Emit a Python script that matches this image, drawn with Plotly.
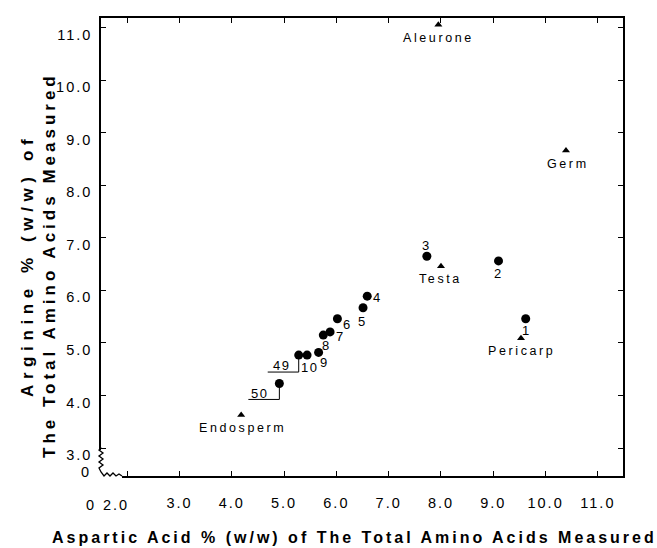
import plotly.graph_objects as go

# Numbered samples (filled circles): aspartic acid vs arginine, % (w/w) of total amino acids
sample_ids = ["1", "2", "3", "4", "5", "6", "7", "8", "9", "10", "49", "50"]
sample_asp = [9.62, 9.10, 7.73, 6.59, 6.51, 6.02, 5.88, 5.75, 5.66, 5.44, 5.28, 4.91]
sample_arg = [5.46, 6.56, 6.65, 5.89, 5.67, 5.46, 5.21, 5.15, 4.82, 4.77, 4.77, 4.23]

# Grain fractions (triangles)
fraction_names = ["Aleurone", "Germ", "Testa", "Pericarp", "Endosperm"]
fraction_asp = [7.95, 10.39, 8.00, 9.53, 4.18]
fraction_arg = [11.05, 8.66, 6.46, 5.09, 3.63]

# Axis ticks
x_tick_vals = [2, 3, 4, 5, 6, 7, 8, 9, 10, 11]
x_tick_text = ["2.0", "3.0", "4.0", "5.0", "6.0", "7.0", "8.0", "9.0", "10.0", "11.0"]
y_tick_vals = [3, 4, 5, 6, 7, 8, 9, 10, 11]
y_tick_text = ["3.0", "4.0", "5.0", "6.0", "7.0", "8.0", "9.0", "10.0", "11.0"]
origin_label = "0"

X_RANGE = [1.5, 11.48]
Y_RANGE = [2.47, 11.18]

FONT = "Liberation Sans, Arial, Helvetica, sans-serif"
W, H = 657, 548
ML, MR, MT, MB = 101, 34, 18, 72
PW, PH = W - ML - MR, H - MT - MB


def spaced(text, px):
    return f'<span style="letter-spacing:{px}px">{text}</span>'


def to_paper(px, py):
    """Convert page pixels to paper coordinates of the plot area."""
    return (px - ML) / PW, (H - MB - py) / PH


# label placement: (xshift, yshift, xanchor) in pixels relative to the marker
sample_label_pos = {
    "1": (1, -12, "center"),
    "2": (0, -13, "center"),
    "3": (0, 11, "center"),
    "4": (4, -1, "left"),
    "5": (-1, -14, "center"),
    "6": (4, -6, "left"),
    "7": (4, -5, "left"),
    "8": (3, -10, "center"),
    "9": (6, -10, "center"),
    "10": (2, -12, "center"),
    "49": (-17, -10, "center"),
    "50": (-20, -10, "center"),
}
fraction_label_pos = {
    "Aleurone": (0, -13),
    "Germ": (2, -13),
    "Testa": (0, -13),
    "Pericarp": (0, -13),
    "Endosperm": (1, -13),
}

fig = go.Figure()

fig.add_trace(go.Scatter(
    x=sample_asp, y=sample_arg, mode="markers",
    marker=dict(symbol="circle", size=9, color="black"),
    hoverinfo="skip", showlegend=False,
))
fig.add_trace(go.Scatter(
    x=fraction_asp, y=fraction_arg, mode="markers",
    marker=dict(symbol="triangle-up", size=7, color="black"),
    hoverinfo="skip", showlegend=False,
))

annotations = []
for sid, xv, yv in zip(sample_ids, sample_asp, sample_arg):
    dx, dy, anchor = sample_label_pos[sid]
    annotations.append(dict(
        x=xv, y=yv, xref="x", yref="y", text=spaced(sid, 1.5),
        showarrow=False, xshift=dx, yshift=dy, xanchor=anchor, yanchor="middle",
        font=dict(family=FONT, size=13, color="black"),
    ))
for name, xv, yv in zip(fraction_names, fraction_asp, fraction_arg):
    dx, dy = fraction_label_pos[name]
    annotations.append(dict(
        x=xv, y=yv, xref="x", yref="y", text=spaced(name, 2.6),
        showarrow=False, xshift=dx, yshift=dy, xanchor="center", yanchor="middle",
        font=dict(family=FONT, size=12.5, color="black"),
    ))

# Axis titles
ax, ay = to_paper(354, 537)
annotations.append(dict(
    x=ax, y=ay, xref="paper", yref="paper", showarrow=False,
    xanchor="center", yanchor="middle",
    text="<b>" + spaced("Aspartic Acid % (w/w) of The Total Amino Acids Measured", 3.0) + "</b>",
    font=dict(family=FONT, size=16, color="black"),
))
l1x, l1y = to_paper(27, 266)
annotations.append(dict(
    x=l1x, y=l1y, xref="paper", yref="paper", showarrow=False, textangle=-90,
    xanchor="center", yanchor="middle",
    text="<b>" + spaced("Arginine % (w/w) of", 5.6) + "</b>",
    font=dict(family=FONT, size=17, color="black"),
))
l2x, l2y = to_paper(49, 265)
annotations.append(dict(
    x=l2x, y=l2y, xref="paper", yref="paper", showarrow=False, textangle=-90,
    xanchor="center", yanchor="middle",
    text="<b>" + spaced("The Total Amino Acids Measured", 4.0) + "</b>",
    font=dict(family=FONT, size=17, color="black"),
))

# labels at the broken corner: origin "0" on both axes, and "2.0" set close to it
tick_font = dict(family=FONT, size=14.5, color="black")
zx, zy = to_paper(91, 505)
annotations.append(dict(x=zx, y=zy, xref="paper", yref="paper", showarrow=False,
                        xanchor="center", yanchor="middle",
                        text=spaced(origin_label, 2), font=tick_font))
tx, ty = to_paper(116, 505)
annotations.append(dict(x=tx, y=ty, xref="paper", yref="paper", showarrow=False,
                        xanchor="center", yanchor="middle",
                        text=spaced(x_tick_text[0], 2), font=tick_font))
zx, zy = to_paper(93, 472)
annotations.append(dict(x=zx, y=zy, xref="paper", yref="paper", showarrow=False,
                        xanchor="right", yanchor="middle",
                        text=spaced(origin_label, 2), font=tick_font))

shapes = []
# leader brackets from the "49" and "50" labels to their points
for sid, drop in (("49", -17), ("50", -16)):
    i = sample_ids.index(sid)
    for (x0, y0, x1, y1) in ((-31, drop, 0, drop), (0, drop, 0, -4)):
        shapes.append(dict(
            type="line", xref="x", yref="y", xsizemode="pixel", ysizemode="pixel",
            xanchor=sample_asp[i], yanchor=sample_arg[i],
            x0=x0, y0=y0, x1=x1, y1=y1,
            line=dict(color="black", width=1),
        ))

# blank out the corner of the axes and draw the axis-break zigzags
for (a, b, c, d) in ((96, 450, 105, 481), (96, 472, 122, 481)):
    p0 = to_paper(a, d)
    p1 = to_paper(c, b)
    shapes.append(dict(type="rect", xref="paper", yref="paper",
                       x0=p0[0], y0=p0[1], x1=p1[0], y1=p1[1],
                       fillcolor="white", line=dict(width=0), layer="above"))
zig = [(101, 447), (99, 450), (103, 453), (99, 456), (103, 459), (99, 462),
       (103, 465), (99, 468), (101, 472), (104, 476), (107, 473), (110, 476),
       (113, 473), (116, 476), (119, 474), (122, 476)]
path = ""
for k, (px, py) in enumerate(zig):
    u, v = to_paper(px, py)
    path += ("M" if k == 0 else "L") + f"{u:.5f},{v:.5f} "
shapes.append(dict(type="path", xref="paper", yref="paper", path=path,
                   line=dict(color="black", width=1.3), layer="above"))

axis_common = dict(
    showgrid=False, zeroline=False, showline=True, linecolor="black", linewidth=1.5,
    mirror="ticks", ticks="inside", ticklen=5, tickwidth=1.2, tickcolor="black",
    tickfont=tick_font,
)

fig.update_layout(
    width=W, height=H,
    margin=dict(l=ML, r=MR, t=MT, b=MB),
    paper_bgcolor="white", plot_bgcolor="white",
    xaxis=dict(range=X_RANGE, tickmode="array", tickvals=x_tick_vals,
               ticktext=[""] + [spaced(t, 2) for t in x_tick_text[1:]],
               ticklabelstandoff=13, **axis_common),
    yaxis=dict(range=Y_RANGE, tickmode="array", tickvals=y_tick_vals,
               ticktext=[spaced(t, 2) for t in y_tick_text],
               ticklabelstandoff=4, ticklabelshift=7, **axis_common),
    annotations=annotations,
    shapes=shapes,
)

fig.write_html("out.html")
